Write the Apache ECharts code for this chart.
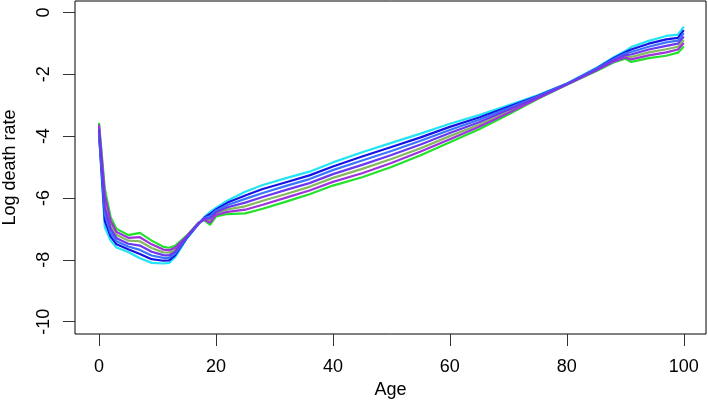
<!DOCTYPE html>
<html>
<head>
<meta charset="utf-8">
<script src="https://cdn.jsdelivr.net/npm/echarts@6/dist/echarts.min.js"></script>
<style>
html,body{margin:0;padding:0;background:#fff;}
#chart{width:708px;height:404px;}
</style>
</head>
<body>
<div id="chart"></div>
<script>
var ages = [0,1,2,3,5,7,9,11,12,13,15,17,18,19,20,22,25,28,32,36,40,45,50,55,60,65,70,75,80,85,88,90,91,94,97,99,100];

var curveCyan   = [-3.95,-6.95,-7.38,-7.60,-7.75,-7.95,-8.10,-8.12,-8.10,-7.92,-7.32,-6.85,-6.62,-6.45,-6.32,-6.08,-5.80,-5.58,-5.36,-5.15,-4.85,-4.52,-4.22,-3.92,-3.60,-3.32,-3.00,-2.68,-2.30,-1.80,-1.45,-1.25,-1.12,-0.92,-0.76,-0.72,-0.46];
var curveBlue1  = [-3.89,-6.74,-7.25,-7.50,-7.66,-7.81,-7.98,-8.03,-8.02,-7.86,-7.30,-6.84,-6.64,-6.52,-6.37,-6.15,-5.92,-5.71,-5.49,-5.27,-4.98,-4.66,-4.35,-4.04,-3.70,-3.40,-3.05,-2.70,-2.31,-1.82,-1.48,-1.29,-1.20,-1.01,-0.87,-0.82,-0.57];
var curveBlue2  = [-3.82,-6.53,-7.13,-7.40,-7.57,-7.68,-7.86,-7.94,-7.94,-7.80,-7.29,-6.83,-6.65,-6.59,-6.41,-6.23,-6.03,-5.84,-5.61,-5.39,-5.10,-4.79,-4.48,-4.15,-3.80,-3.47,-3.10,-2.72,-2.31,-1.83,-1.51,-1.33,-1.28,-1.11,-0.97,-0.91,-0.67];
var curveViolet = [-3.76,-6.33,-7.00,-7.30,-7.48,-7.54,-7.74,-7.85,-7.86,-7.74,-7.27,-6.83,-6.67,-6.66,-6.46,-6.30,-6.15,-5.97,-5.74,-5.52,-5.23,-4.93,-4.61,-4.27,-3.90,-3.55,-3.15,-2.74,-2.32,-1.85,-1.54,-1.38,-1.36,-1.20,-1.08,-1.01,-0.78];
var curveOlive  = [-3.70,-6.12,-6.87,-7.20,-7.38,-7.40,-7.62,-7.76,-7.77,-7.67,-7.25,-6.82,-6.69,-6.73,-6.51,-6.37,-6.27,-6.09,-5.87,-5.64,-5.35,-5.06,-4.74,-4.39,-4.00,-3.63,-3.20,-2.76,-2.33,-1.87,-1.56,-1.42,-1.44,-1.29,-1.19,-1.11,-0.89];
var curvePurple = [-3.63,-5.91,-6.75,-7.10,-7.29,-7.27,-7.50,-7.67,-7.69,-7.61,-7.24,-6.81,-6.70,-6.80,-6.55,-6.45,-6.38,-6.22,-5.99,-5.76,-5.48,-5.20,-4.87,-4.50,-4.10,-3.70,-3.25,-2.78,-2.33,-1.88,-1.59,-1.46,-1.52,-1.39,-1.29,-1.20,-0.99];
var curveGreen  = [-3.57,-5.70,-6.62,-7.00,-7.20,-7.13,-7.38,-7.58,-7.61,-7.55,-7.22,-6.80,-6.72,-6.87,-6.60,-6.52,-6.50,-6.35,-6.12,-5.88,-5.60,-5.33,-5.00,-4.62,-4.20,-3.78,-3.30,-2.80,-2.34,-1.90,-1.62,-1.50,-1.60,-1.48,-1.40,-1.30,-1.10];

var xTicks = [0,20,40,60,80,100];
var yTicks = [-10,-8,-6,-4,-2,0];

var curves = [
  {name:'green',  values:curveGreen,  color:'#22e22a'},
  {name:'cyan',   values:curveCyan,   color:'#22e4f2'},
  {name:'blue1',  values:curveBlue1,  color:'#1414e6'},
  {name:'blue2',  values:curveBlue2,  color:'#3a74ff'},
  {name:'olive',  values:curveOlive,  color:'#86b860'},
  {name:'purple', values:curvePurple, color:'#a032dc'},
  {name:'violet', values:curveViolet, color:'#6a38f0'}
];

function pairs(vals){ return ages.map(function(a,i){ return [a, vals[i]]; }); }

var font = 'Liberation Sans, Arial, Helvetica, sans-serif';
var chart = echarts.init(document.getElementById('chart'), null, {renderer:'canvas'});
chart.setOption({
  animation:false,
  backgroundColor:'#fff',
  grid:{left:75, right:2, top:1, bottom:70, containLabel:false, outerBoundsMode:'none',
        show:true, borderColor:'#000', borderWidth:1, backgroundColor:'transparent'},
  xAxis:{
    type:'value', min:-4.1, max:103.8,
    name:'Age', nameLocation:'middle', nameGap:45,
    nameTextStyle:{fontSize:18, color:'#000', fontFamily:font},
    splitLine:{show:false},
    axisLine:{show:false, onZero:false},
    axisTick:{show:true, length:12, customValues:xTicks, lineStyle:{color:'#333', width:1}},
    axisLabel:{fontSize:18, color:'#000', fontFamily:font, margin:24, customValues:xTicks}
  },
  yAxis:{
    type:'value', min:-10.4, max:0.37,
    name:'Log death rate', nameLocation:'middle', nameGap:56, nameRotate:90,
    nameTextStyle:{fontSize:18, color:'#000', fontFamily:font},
    splitLine:{show:false},
    axisLine:{show:false, onZero:false},
    axisTick:{show:true, length:12, customValues:yTicks, lineStyle:{color:'#333', width:1}},
    axisLabel:{fontSize:18, color:'#000', fontFamily:font, margin:22, rotate:90, customValues:yTicks}
  },
  series: curves.map(function(c){
    return {type:'line', name:c.name, data:pairs(c.values), showSymbol:false, symbol:'none',
            silent:true, lineStyle:{color:c.color, width:2.2}, itemStyle:{color:c.color}};
  })
});
</script>
</body>
</html>
